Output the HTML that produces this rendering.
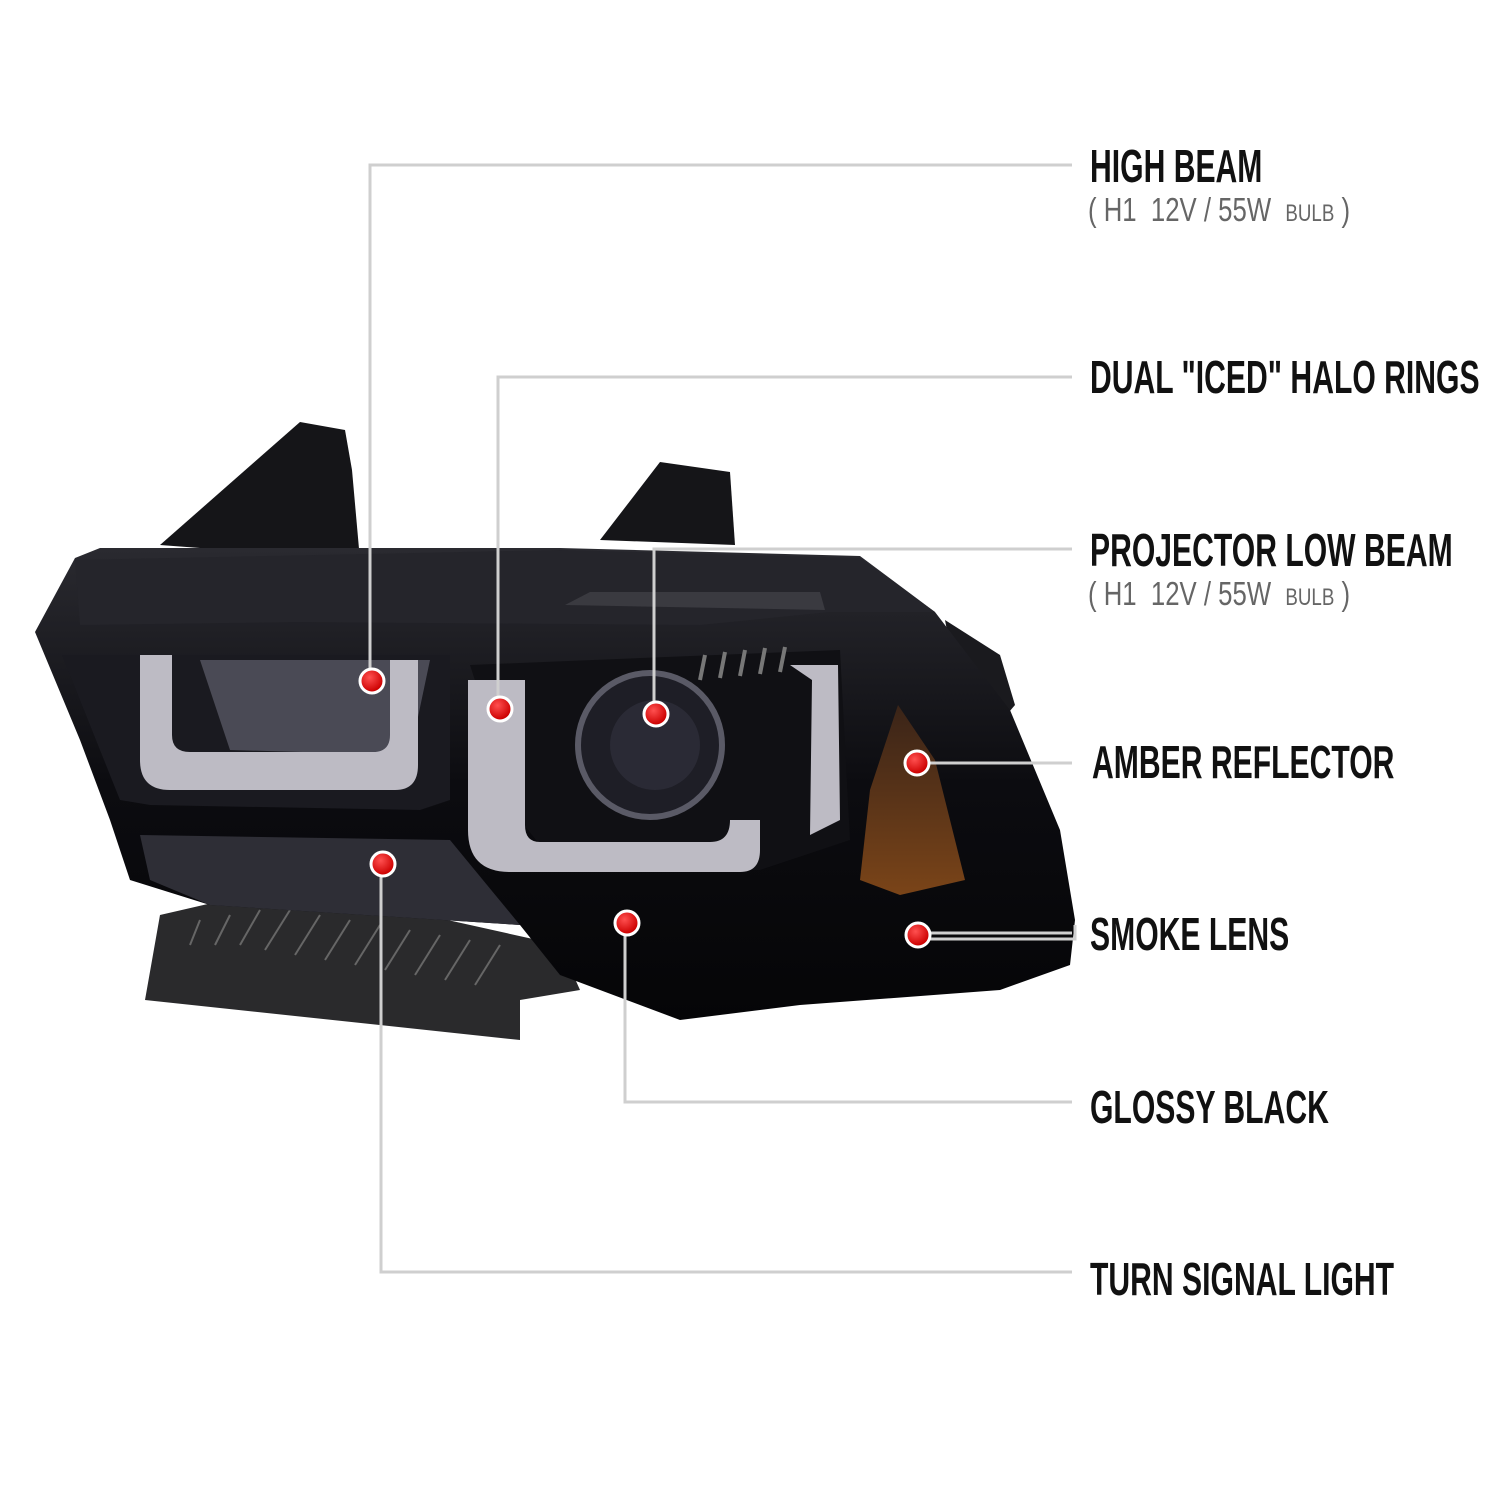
<!DOCTYPE html>
<html><head><meta charset="utf-8"><style>
html,body{margin:0;padding:0;background:#fff;}
.w{position:relative;width:1500px;height:1500px;overflow:hidden;background:#fff;}
svg{position:absolute;left:0;top:0;}
.t{position:absolute;font-family:"Liberation Sans",sans-serif;font-weight:bold;color:#111;font-size:46px;line-height:1;white-space:nowrap;transform-origin:0 0;transform:scaleX(0.655);}
.s{position:absolute;font-family:"Liberation Sans",sans-serif;color:#666;font-size:33px;line-height:1;white-space:nowrap;transform-origin:0 0;transform:scaleX(0.78);}
.s small{font-size:24px;}
</style></head><body><div class="w">
<svg width="1500" height="1500" viewBox="0 0 1500 1500">
<defs>
<linearGradient id="body" x1="0" y1="0" x2="0" y2="1"><stop offset="0" stop-color="#2a2a30"/><stop offset="0.5" stop-color="#0c0c10"/><stop offset="1" stop-color="#050507"/></linearGradient>
<linearGradient id="amb" x1="0" y1="0" x2="0" y2="1"><stop offset="0" stop-color="#3a2418"/><stop offset="1" stop-color="#7a4418"/></linearGradient>
<radialGradient id="dot" cx="0.4" cy="0.35" r="0.6"><stop offset="0" stop-color="#ff5050"/><stop offset="1" stop-color="#cc0000"/></radialGradient>
</defs>
<polygon points="160,545 300,422 345,430 352,470 360,560" fill="#151518"/>
<polygon points="600,540 660,462 730,472 735,545" fill="#151518"/>
<polygon points="945,620 1000,655 1015,705 985,740 960,700" fill="#1a1a1e"/>
<polygon points="160,915 290,885 560,945 580,990 520,1000 520,1040 145,1000" fill="#2a2a2c"/>
<g stroke="#666" stroke-width="2">
<line x1="200" y1="920" x2="190" y2="945"/><line x1="230" y1="915" x2="215" y2="945"/><line x1="260" y1="910" x2="240" y2="945"/><line x1="290" y1="910" x2="265" y2="950"/><line x1="320" y1="915" x2="295" y2="955"/><line x1="350" y1="920" x2="325" y2="960"/><line x1="380" y1="925" x2="355" y2="965"/><line x1="410" y1="930" x2="385" y2="970"/><line x1="440" y1="935" x2="415" y2="975"/><line x1="470" y1="940" x2="445" y2="980"/><line x1="500" y1="945" x2="475" y2="985"/>
</g>
<polygon points="35,632 75,558 100,548 560,548 860,556 935,612 1010,710 1060,830 1075,920 1070,965 1000,990 800,1005 680,1020 560,975 520,925 210,905 130,880 110,820 80,740" fill="url(#body)"/>
<polygon points="75,560 560,550 860,558 935,612 830,612 700,625 300,622 80,625" fill="#25252b"/>
<polygon points="565,605 590,592 820,592 825,610" fill="#3a3a40"/>
<polygon points="62,655 450,655 450,800 420,810 150,805 120,800" fill="#1a1a20"/>
<polygon points="200,660 430,660 410,755 230,750" fill="#4a4a55"/>
<path d="M140,655 L140,760 Q140,790 170,790 L395,790 Q418,790 418,765 L418,660 L390,660 L390,735 Q390,752 373,752 L190,752 Q172,752 172,735 L172,655 Z" fill="#bdbbc4"/>
<polygon points="140,835 450,840 520,925 210,905 150,880" fill="#2e2e36"/>
<polygon points="470,665 840,650 850,840 760,870 560,870 520,820" fill="#101014"/>
<circle cx="650" cy="745" r="72" fill="#1e1e26" stroke="#5a5a66" stroke-width="6"/>
<circle cx="655" cy="745" r="45" fill="#2a2a35"/>
<path d="M468,680 L468,830 Q468,872 510,872 L740,872 Q760,872 760,850 L760,820 L730,820 Q730,842 710,842 L540,842 Q525,842 525,825 L525,680 Z" fill="#bdbbc4"/>
<path d="M790,665 L838,665 L840,820 L810,835 L812,680 Z" fill="#bdbbc4"/>
<g stroke="#777" stroke-width="4"><line x1="705" y1="655" x2="700" y2="680"/><line x1="725" y1="652" x2="720" y2="678"/><line x1="745" y1="650" x2="740" y2="676"/><line x1="765" y1="648" x2="760" y2="674"/><line x1="785" y1="647" x2="780" y2="672"/></g>
<polygon points="898,705 935,760 965,880 900,895 860,880 870,790" fill="url(#amb)"/>
<g fill="none" stroke="#cfcfcf" stroke-width="3">
<polyline points="370,681 370,165 1072,165"/>
<polyline points="498,709 498,377 1072,377"/>
<polyline points="654,714 654,549 1072,549"/>
<polyline points="917,763 1072,763"/>
<polyline points="918,933 1072,933"/>
<polyline points="918,939 1075,939 1075,925"/>
<polyline points="625,923 625,1102 1072,1102"/>
<polyline points="381,864 381,1272 1072,1272"/>
</g>
<g stroke="#fff" stroke-width="3" fill="url(#dot)">
<circle cx="372" cy="681" r="12"/><circle cx="500" cy="709" r="12"/><circle cx="656" cy="714" r="12"/><circle cx="917" cy="763" r="12"/><circle cx="918" cy="935" r="12"/><circle cx="627" cy="923" r="12"/><circle cx="383" cy="864" r="12"/>
</g>
</svg>
<div class="t" style="left:1090px;top:143px">HIGH BEAM</div>
<div class="s" style="left:1088px;top:193px">( H1&nbsp; 12V / 55W&nbsp; <small>BULB</small> )</div>
<div class="t" style="left:1090px;top:354px">DUAL "ICED" HALO RINGS</div>
<div class="t" style="left:1090px;top:527px">PROJECTOR LOW BEAM</div>
<div class="s" style="left:1088px;top:577px">( H1&nbsp; 12V / 55W&nbsp; <small>BULB</small> )</div>
<div class="t" style="left:1092px;top:739px">AMBER REFLECTOR</div>
<div class="t" style="left:1090px;top:911px">SMOKE LENS</div>
<div class="t" style="left:1090px;top:1084px">GLOSSY BLACK</div>
<div class="t" style="left:1090px;top:1256px">TURN SIGNAL LIGHT</div>
</div></body></html>
